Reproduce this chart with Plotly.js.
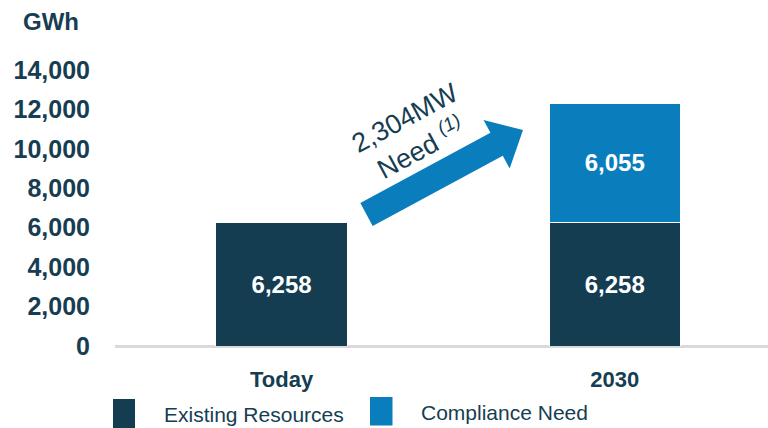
<!DOCTYPE html>
<html>
<head>
<meta charset="utf-8">
<script src="https://cdn.plot.ly/plotly-3.0.1.min.js"></script>
<style>html,body{margin:0;padding:0;background:#fff;}#chart{width:768px;height:428px;}</style>
</head>
<body>
<div id="chart"></div>
<script>
const categories = ["Today", "2030"];
const existingResources = [6258, 6258];
const complianceNeed = [0, 6055];
const seriesNames = ["Existing Resources", "Compliance Need"];
const yTickValues = [0, 2000, 4000, 6000, 8000, 10000, 12000, 14000];
const yTickLabels = ["0", "2,000", "4,000", "6,000", "8,000", "10,000", "12,000", "14,000"];
const unitLabel = "GWh";
const arrowLabel = "2,304MW<br>Need <sup><i>(1)</i></sup>";

const DARK = "#143d52";
const BLUE = "#0a7dbd";
const TEXT = "#163d52";
const FONT = "Liberation Sans, Arial, sans-serif";

const W = 768, H = 428;
const mL = 115, mR = 0, mT = 70, mB = 82;
const pw = W - mL - mR, ph = H - mT - mB;
function px(x) { return (x - mL) / pw; }
function py(y) { return (H - mB - y) / ph; }

const fmt = v => v.toLocaleString("en-US");

const traces = [
  {
    type: "bar", name: seriesNames[0], x: categories, y: existingResources,
    width: 0.394, marker: {color: DARK, line: {color: "#ffffff", width: 1}},
    text: existingResources.map(fmt), textposition: "inside", insidetextanchor: "middle",
    textfont: {family: FONT, size: 24, color: "#ffffff", weight: "bold"},
    hoverinfo: "skip"
  },
  {
    type: "bar", name: seriesNames[1], x: categories, y: complianceNeed,
    width: 0.394, marker: {color: BLUE, line: {color: "#ffffff", width: 1}},
    text: complianceNeed.map(v => v > 0 ? fmt(v) : ""), textposition: "inside", insidetextanchor: "middle",
    textfont: {family: FONT, size: 24, color: "#ffffff", weight: "bold"},
    hoverinfo: "skip"
  }
];

// arrow polygon (pixel space)
const tip = [523, 130], base = [366.5, 214.5];
const dx = tip[0] - base[0], dy = tip[1] - base[1];
const len = Math.hypot(dx, dy);
const d = [dx / len, dy / len];
const n = [-d[1], d[0]];
const hw = 13, hhw = 27.5, hl = 30;
const Hc = [tip[0] - d[0] * hl, tip[1] - d[1] * hl];
const pts = [
  [base[0] - n[0] * hw, base[1] - n[1] * hw],
  [Hc[0] - n[0] * hw, Hc[1] - n[1] * hw],
  [Hc[0] - n[0] * hhw, Hc[1] - n[1] * hhw],
  tip,
  [Hc[0] + n[0] * hhw, Hc[1] + n[1] * hhw],
  [Hc[0] + n[0] * hw, Hc[1] + n[1] * hw],
  [base[0] + n[0] * hw, base[1] + n[1] * hw]
];
const path = "M " + pts.map(p => px(p[0]).toFixed(5) + "," + py(p[1]).toFixed(5)).join(" L ") + " Z";
const angle = Math.atan2(dy, dx) * 180 / Math.PI;

const shapes = [
  {type: "path", xref: "paper", yref: "paper", path: path, fillcolor: BLUE, line: {width: 0}},
  {type: "rect", xref: "paper", yref: "paper", x0: px(113), x1: px(135), y0: py(399), y1: py(428), fillcolor: DARK, line: {width: 0}},
  {type: "rect", xref: "paper", yref: "paper", x0: px(370), x1: px(392.5), y0: py(397), y1: py(425.5), fillcolor: BLUE, line: {width: 0}}
];

const annotations = [
  {xref: "paper", yref: "paper", x: px(51), y: py(22), text: "<b>" + unitLabel + "</b>", showarrow: false,
   xanchor: "center", yanchor: "middle", font: {family: FONT, size: 24, color: TEXT}},
  {xref: "paper", yref: "paper", x: px(413), y: py(133), text: arrowLabel, showarrow: false, textangle: angle,
   xanchor: "center", yanchor: "middle", align: "center", font: {family: FONT, size: 27, color: TEXT}},
  {xref: "paper", yref: "paper", x: px(162), y: py(414), text: seriesNames[0], showarrow: false,
   xanchor: "left", yanchor: "middle", font: {family: FONT, size: 21, color: TEXT}},
  {xref: "paper", yref: "paper", x: px(419), y: py(412), text: seriesNames[1], showarrow: false,
   xanchor: "left", yanchor: "middle", font: {family: FONT, size: 21, color: TEXT}}
];

const layout = {
  width: W, height: H,
  margin: {l: mL, r: mR, t: mT, b: mB, pad: 0},
  paper_bgcolor: "#ffffff", plot_bgcolor: "#ffffff",
  barmode: "stack", showlegend: false,
  xaxis: {
    type: "category", range: [-0.5, 1.46], showgrid: false, showline: false, zeroline: false,
    ticks: "outside", ticklen: 14, tickcolor: "rgba(0,0,0,0)",
    tickfont: {family: FONT, size: 22, color: TEXT, weight: "bold"}, fixedrange: true
  },
  yaxis: {
    range: [0, 14000], tickvals: yTickValues, ticktext: yTickLabels,
    showgrid: false, showline: false, zeroline: true, zerolinecolor: "#d9d9d9", zerolinewidth: 3,
    ticks: "outside", ticklen: 19, tickcolor: "rgba(0,0,0,0)",
    tickfont: {family: FONT, size: 25, color: TEXT, weight: "bold"}, fixedrange: true
  },
  shapes: shapes,
  annotations: annotations,
  uniformtext: {mode: false}
};

Plotly.newPlot("chart", traces, layout, {displayModeBar: false, staticPlot: true});
</script>
</body>
</html>
